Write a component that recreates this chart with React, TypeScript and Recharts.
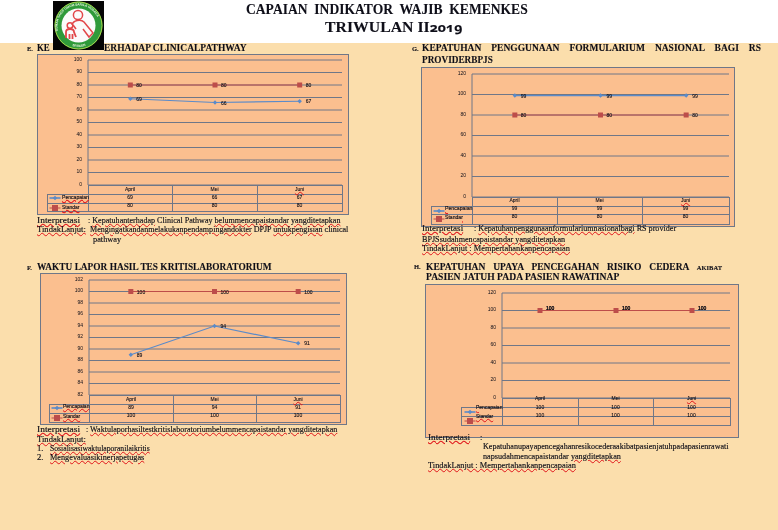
import { useLayoutEffect, useRef, type ReactNode } from "react";
import { CartesianGrid, LineChart, Line, XAxis, YAxis } from "recharts";

const months = ["April", "Mei", "Juni"];

const pencapaianE = [69, 66, 67];
const standarE = [80, 80, 80];
const ticksE = [0, 10, 20, 30, 40, 50, 60, 70, 80, 90, 100];

const pencapaianG = [99, 99, 99];
const standarG = [80, 80, 80];
const ticksG = [0, 20, 40, 60, 80, 100, 120];

const pencapaianF = [89, 94, 91];
const standarF = [100, 100, 100];
const ticksF = [82, 84, 86, 88, 90, 92, 94, 96, 98, 100, 102];

const pencapaianH = [100, 100, 100];
const standarH = [100, 100, 100];
const ticksH = [0, 20, 40, 60, 80, 100, 120];

const BLUE = "#5b8bc9";
const RED = "#bd4d4a";
const LINE = "#6f7788";
const INK = "#0e0e18";
const SERIF = "'Liberation Serif', serif";
const SANS = "'Liberation Sans', sans-serif";
const SMALL = 5;

// wavy spell-check underline seen under most of the words
function S({ children }: { children: ReactNode }) {
  return (
    <span style={{ textDecoration: "underline wavy #e0141a", textDecorationThickness: "0.5px", textUnderlineOffset: 0 }}>
      {children}
    </span>
  );
}

// one line of text, squeezed to the width it has in the picture
function T({ x, y, w, size = 8.6, bold, font = SERIF, justify, children }: {
  x: number; y: number; w?: number; size?: number; bold?: boolean; font?: string; justify?: boolean; children: ReactNode;
}) {
  const ref = useRef<HTMLDivElement>(null);
  useLayoutEffect(() => {
    const el = ref.current;
    if (!el || !w || justify) return;
    el.style.transform = `scaleX(${w / el.offsetWidth})`;
  }, [w, justify]);
  return (
    <div
      ref={ref}
      style={{
        position: "absolute",
        left: x,
        top: y - 6,
        lineHeight: "12px",
        fontFamily: font,
        fontSize: size,
        fontWeight: bold ? 700 : 400,
        color: INK,
        whiteSpace: "nowrap",
        transformOrigin: "left center",
        WebkitTextStroke: bold ? "0.1px #0e0e18" : "0.15px #0e0e18",
        ...(justify ? { width: w, whiteSpace: "normal", textAlign: "justify", textAlignLast: "justify" } : {}),
      }}
    >
      {children}
    </div>
  );
}

function Rule({ x, y, w, h }: { x: number; y: number; w: number; h: number }) {
  return <div style={{ position: "absolute", left: x, top: y, width: w, height: h, background: LINE }} />;
}

function PctDot({ cx, cy, key }: any) {
  return <path key={key} d={`M${cx - 2.2} ${cy}L${cx} ${cy - 2.2}L${cx + 2.2} ${cy}L${cx} ${cy + 2.2}Z`} fill={BLUE} />;
}

function StdDot({ cx, cy, key }: any) {
  return <rect key={key} x={cx - 2.5} y={cy - 2.5} width={5} height={5} fill={RED} />;
}

function valueLabel(dy: number) {
  return ({ x, y, value, index }: any) => (
    <text key={index} x={x + 6} y={y + dy} dy={2} fontFamily={SANS} fontSize={SMALL} fill={INK} stroke={INK} strokeWidth={0.1}>
      {value}
    </text>
  );
}

function Swatch({ x, y, kind }: { x: number; y: number; kind: "pct" | "std" }) {
  const color = kind === "pct" ? BLUE : RED;
  return (
    <svg style={{ position: "absolute", left: x, top: y - 4 }} width={12} height={8}>
      <line x1={0.5} x2={11.5} y1={4} y2={4} stroke={color} strokeWidth={kind === "pct" ? 1.6 : 1} />
      {kind === "pct" ? (
        <path d="M6 1.8L8.2 4L6 6.2L3.8 4Z" fill={color} />
      ) : (
        <rect x={3} y={1} width={6} height={6} fill={color} />
      )}
    </svg>
  );
}

interface ChartProps {
  box: number[]; // left, top, right, bottom of the panel
  plot: number[]; // left, top, right, bottom of the plot
  rows: number[]; // two inner row lines and the bottom of the table
  cols: number[]; // two inner column lines
  legendX: number;
  legendTextX: number;
  swatchX: number;
  swatchY: number[];
  legendY: number[];
  cellY: number[];
  ticks: number[];
  pct: number[];
  std: number[];
  labelDy?: number[];
}

function ChartPanel(p: ChartProps) {
  const [bl, bt, br, bb] = p.box;
  const [pl, pt, pr, pb] = p.plot;
  const data = months.map((m, i) => ({ month: m, pct: p.pct[i], std: p.std[i] }));
  const colEdges = [pl, ...p.cols, pr];
  const [pctDy, stdDy] = p.labelDy ?? [0, 0];
  return (
    <>
      <div
        style={{
          position: "absolute",
          left: bl,
          top: bt,
          width: br - bl,
          height: bb - bt,
          boxSizing: "border-box",
          background: "#fbbf8f",
          border: `1px solid ${LINE}`,
        }}
      />
      <div style={{ position: "absolute", left: bl, top: bt }}>
        <LineChart
          width={pr - bl}
          height={pb - bt + 10}
          data={data}
          margin={{ top: pt - bt, right: 0, bottom: 10, left: 0 }}
        >
          <CartesianGrid vertical={false} stroke={LINE} strokeWidth={1} />
          <XAxis dataKey="month" hide scale="band" height={0} />
          <YAxis
            width={pl - bl}
            domain={[p.ticks[0], p.ticks[p.ticks.length - 1]]}
            ticks={p.ticks}
            interval={0}
            tickLine={false}
            stroke={LINE}
            tickMargin={0}
            tick={{ fontFamily: SANS, fontSize: SMALL, fill: INK, dy: -1 }}
          />
          <Line
            dataKey="pct"
            stroke={BLUE}
            strokeWidth={1.2}
            dot={PctDot}
            label={valueLabel(pctDy)}
            isAnimationActive={false}
          />
          <Line
            dataKey="std"
            stroke={RED}
            strokeWidth={1}
            dot={StdDot}
            label={valueLabel(stdDy)}
            isAnimationActive={false}
          />
        </LineChart>
      </div>

      {/* data table under the plot */}
      <Rule x={pl} y={pb} w={pr - pl + 1} h={1} />
      {p.rows.map((r) => (
        <Rule key={r} x={p.legendX} y={r} w={pr - p.legendX + 1} h={1} />
      ))}
      {[pl, ...p.cols, pr].map((c) => (
        <Rule key={c} x={c} y={pb} w={1} h={p.rows[2] - pb} />
      ))}
      <Rule x={p.legendX} y={p.rows[0]} w={1} h={p.rows[2] - p.rows[0]} />
      {months.map((m, i) => {
        const left = colEdges[i];
        const width = colEdges[i + 1] - left;
        const cell = (y: number, content: ReactNode) => (
          <div
            style={{
              position: "absolute",
              left,
              width,
              top: y - 5,
              lineHeight: "10px",
              textAlign: "center",
              fontFamily: SANS,
              fontSize: SMALL,
              color: INK,
              WebkitTextStroke: "0.1px #0e0e18",
            }}
          >
            {content}
          </div>
        );
        return (
          <div key={m}>
            {cell(p.cellY[0], m === "Juni" ? <S>{m}</S> : m)}
            {cell(p.cellY[1], p.pct[i])}
            {cell(p.cellY[2], p.std[i])}
          </div>
        );
      })}

      {/* legend keys inside the table */}
      <Swatch x={p.swatchX} y={p.swatchY[0]} kind="pct" />
      <Swatch x={p.swatchX} y={p.swatchY[1]} kind="std" />
      <T x={p.legendTextX} y={p.legendY[0]} w={pl - p.legendTextX} size={5} font={SANS}>
        <S>Pencapaian</S>
      </T>
      <T x={p.legendTextX} y={p.legendY[1]} w={(pl - p.legendTextX) * 0.68} size={5} font={SANS}>
        <S>Standar</S>
      </T>
    </>
  );
}

function Logo() {
  return (
    <svg style={{ position: "absolute", left: 53, top: 1 }} width={51} height={49} viewBox="0 0 51 49">
      <rect width={51} height={49} fill="#050505" />
      <circle cx={25.5} cy={24.5} r={24} fill="#2f9a3a" />
      <circle cx={25.5} cy={24.5} r={23.5} fill="none" stroke="#a6d24a" strokeWidth={1} />
      <circle cx={25.5} cy={24.5} r={17} fill="#fbfbfb" />
      <defs>
        <path id="logoTop" d="M5 30A21 21 0 1 1 46 30" />
        <path id="logoBottom" d="M14 42.5A21 21 0 0 0 37 42.5" />
      </defs>
      <text fontFamily={SANS} fontSize={3.2} fontWeight={700} fill="#eef5e0">
        <textPath href="#logoTop">RUMAH SAKIT UMUM SARILA HUSADA</textPath>
      </text>
      <text fontFamily={SANS} fontSize={3.2} fontWeight={700} fill="#eef5e0">
        <textPath href="#logoBottom" startOffset="24%">SRAGEN</textPath>
      </text>
      <g fill="none" stroke="#e2474a" strokeWidth={1.5}>
        <circle cx={25} cy={14} r={4.6} />
        <path d="M19 24C20 19 28 18 31 21L40 32L36 36L30 28" />
        <path d="M20 24L23 28" />
        <circle cx={17} cy={24.5} r={2.8} />
        <path d="M13 37L13 31C13 27 21 27 21 31L23 36M16.5 38V33M19.5 38V33" strokeWidth={1.8} />
      </g>
    </svg>
  );
}

export default function App() {
  return (
    <div
      style={{
        position: "absolute",
        left: 0,
        top: 0,
        width: 778,
        height: 530,
        overflow: "hidden",
        background: "#ffffff",
        filter: "blur(0.25px)",
      }}
    >
      <div style={{ position: "absolute", left: 0, top: 43, width: 778, height: 487, background: "#fbdeac" }} />

      <T x={246} y={10} w={282} size={14} bold>CAPAIAN&nbsp; INDIKATOR&nbsp; WAJIB&nbsp; KEMENKES</T>
      <T x={325} y={26.5} w={137} size={14.5} bold>
        TRIWULAN II<span style={{ fontFamily: "'Open Sans', sans-serif", fontVariantNumeric: "oldstyle-nums", fontSize: 13 }}>2019</span>
      </T>

      {/* E */}
      <T x={27} y={48.5} size={6.5} bold>E.</T>
      <T x={37} y={48} w={13} size={9.5} bold>KE</T>
      <T x={104} y={48} w={143} size={9.5} bold>ERHADAP CLINICALPATHWAY</T>
      <ChartPanel
        box={[37, 54, 349, 215]}
        plot={[88, 60, 342, 185]}
        rows={[194, 203, 211]}
        cols={[172, 257]}
        legendX={47}
        legendTextX={61.5}
        swatchX={49}
        swatchY={[198, 207.5]}
        legendY={[197, 207]}
        cellY={[189, 197, 205]}
        ticks={ticksE}
        pct={pencapaianE}
        std={standarE}
      />
      <T x={37} y={220} w={43}><S>Interpretasi</S></T>
      <T x={88} y={220} w={252}>: <S>Kepatuhanterhadap</S> Clinical Pathway <S>belummencapaistandar yangditetapkan</S></T>
      <T x={37} y={229} w={49}><S>TindakLanjut:</S></T>
      <T x={90} y={229} w={258}><S>Mengingatkandanmelakukanpendampingandokter</S> DPJP <S>untukpengisian</S> clinical</T>
      <T x={93} y={238.5} w={28}>pathway</T>

      {/* G */}
      <T x={412} y={48.5} size={6.5} bold>G.</T>
      <T x={422} y={48} w={339} size={9.5} bold justify>KEPATUHAN PENGGUNAAN FORMULARIUM NASIONAL BAGI RS</T>
      <T x={422} y={60} w={71} size={9.5} bold>PROVIDERBPJS</T>
      <ChartPanel
        box={[421, 67, 735, 227]}
        plot={[472, 74, 729, 197]}
        rows={[206, 214, 224]}
        cols={[557, 642]}
        legendX={431}
        legendTextX={445}
        swatchX={432.5}
        swatchY={[210.5, 219]}
        legendY={[207.5, 216.5]}
        cellY={[200, 208, 216]}
        ticks={ticksG}
        pct={pencapaianG}
        std={standarG}
      />
      <T x={422} y={228} w={41}><S>Interpretasi</S></T>
      <T x={474} y={228} w={202}>: <S>Kepatuhanpenggunaanformulariumnasionalbagi</S> RS provider</T>
      <T x={422} y={239} w={143}><S>BPJSsudahmencapaistandar yangditetapkan</S></T>
      <T x={422} y={248} w={148}><S>TindakLanjut : Mempertahankanpencapaian</S></T>

      {/* F */}
      <T x={27} y={267.5} size={6.5} bold>F.</T>
      <T x={37} y={267} w={235} size={9.5} bold>WAKTU LAPOR HASIL TES KRITISLABORATORIUM</T>
      <ChartPanel
        box={[40, 273, 347, 425]}
        plot={[89, 280, 340, 395]}
        rows={[404, 413, 422]}
        cols={[173, 256]}
        legendX={49}
        legendTextX={63}
        swatchX={51}
        swatchY={[408, 417.5]}
        legendY={[406, 416]}
        cellY={[399, 407, 415]}
        ticks={ticksF}
        pct={pencapaianF}
        std={standarF}
      />
      <T x={37} y={429} w={43}><S>Interpretasi</S></T>
      <T x={86} y={429} w={251}>: <S>Waktulaporhasiltestkritislaboratoriumbelummencapaistandar yangditetapkan</S></T>
      <T x={37} y={439} w={49}><S>TindakLanjut:</S></T>
      <T x={37} y={448}>1.</T>
      <T x={50} y={448} w={100}><S>Sosialisasiwaktulaporanilaikritis</S></T>
      <T x={37} y={457}>2.</T>
      <T x={50} y={457} w={94}><S>Mengevaluasikinerjapetugas</S></T>

      {/* H */}
      <T x={414} y={267} size={6.5} bold>H.</T>
      <T x={426} y={266.5} w={296} size={9.5} bold justify>
        KEPATUHAN UPAYA PENCEGAHAN RISIKO CEDERA <span style={{ fontSize: 6.5 }}>AKIBAT</span>
      </T>
      <T x={426} y={276.5} w={193} size={9.5} bold>PASIEN JATUH PADA PASIEN RAWATINAP</T>
      <ChartPanel
        box={[425, 284, 739, 438]}
        plot={[502, 293, 730, 398]}
        rows={[407, 416, 425]}
        cols={[578, 653]}
        legendX={461}
        legendTextX={476}
        swatchX={463.5}
        swatchY={[411.5, 420.5]}
        legendY={[406.5, 416]}
        cellY={[398, 407, 415]}
        ticks={ticksH}
        pct={pencapaianH}
        std={standarH}
        labelDy={[-3, -3]}
      />
      <T x={428} y={437} w={42}><S>Interpretasi</S></T>
      <T x={480} y={437}>:</T>
      <T x={483} y={446} w={246}>Kepatuhanupayapencegahanresikocederaakibatpasienjatuhpadapasienrawati</T>
      <T x={483} y={456} w={138}>napsudahmencapaistandar <S>yangditetapkan</S></T>
      <T x={428} y={465} w={148}><S>TindakLanjut : Mempertahankanpencapaian</S></T>

      <Logo />
    </div>
  );
}
